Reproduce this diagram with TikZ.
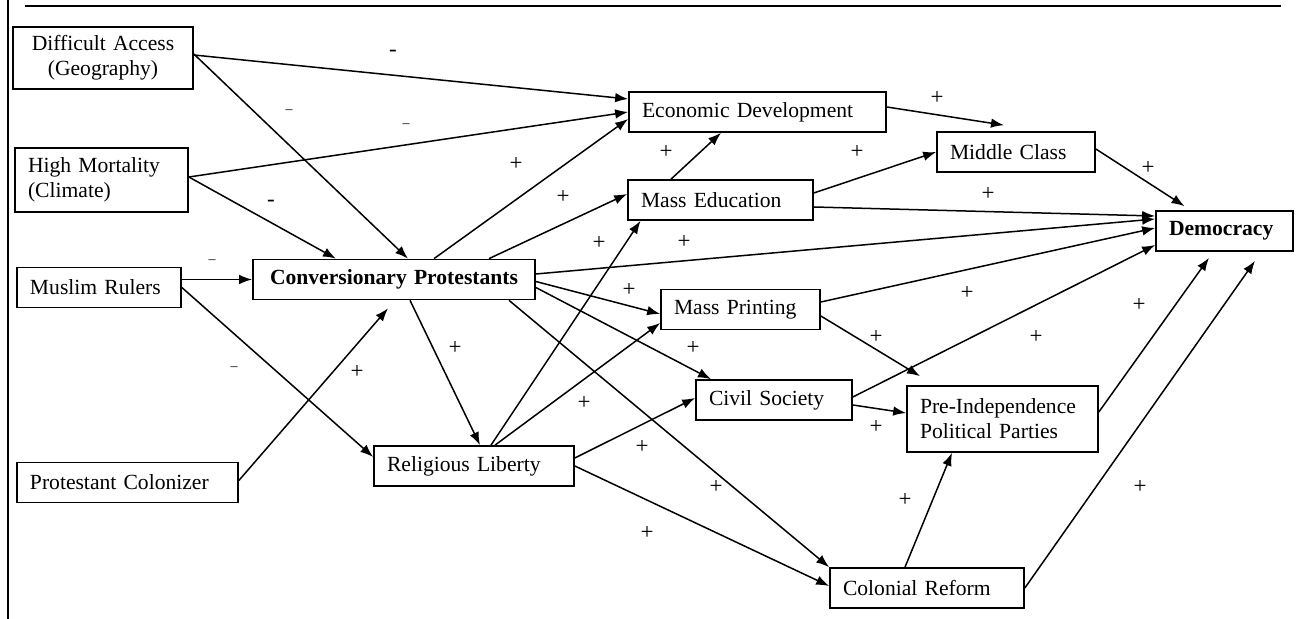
\documentclass[tikz,border=0pt]{standalone}
\usepackage{fontspec}
\setmainfont{Liberation Serif}
\usetikzlibrary{arrows.meta}
\begin{document}
\begin{tikzpicture}[x=0.5pt, y=-0.5pt, >={Latex[length=6.5pt,width=4.8pt]},
  box/.style = {draw, line width=0.85pt, align=left, inner xsep=6.5pt, inner ysep=0pt, minimum height=20pt, font=\fontsize{10.8}{12.5}\selectfont},
  sign/.style = {inner sep=0pt, font=\fontsize{11.5}{12.5}\selectfont},
  minussign/.style = {inner sep=0pt, font=\fontsize{7}{8}\selectfont},
  link/.style = {->, line width=0.75pt}]
  \useasboundingbox (0,0) rectangle (1298,619);
  \draw[line width=1pt] (25,6) -- (1281,6);
  \draw[line width=0.6pt] (8,0) -- (8,619);
  \node[box, text width=77pt, align=center, minimum height=31pt] (access) at (103,58) {Difficult Access\\(Geography)};
  \node[box, text width=73.5pt, minimum height=32pt] (mort) at (101.5,180) {High Mortality\\(Climate)};
  \node[box, text width=69pt] (muslim) at (99,287.5) {Muslim Rulers};
  \node[box, text width=97.5pt] (colon) at (127.5,482.5) {Protestant Colonizer};
  \node[box, text width=128pt, align=center] (conv) at (394,279.5) {\textbf{Conversionary Protestants}};
  \node[box, text width=87pt] (relig) at (474,466) {Religious Liberty};
  \node[box, text width=115.5pt] (econ) at (757.5,112) {Economic Development};
  \node[box, text width=79.5pt] (educ) at (720.5,200) {Mass Education};
  \node[box, text width=66pt] (middle) at (1016,152) {Middle Class};
  \node[box, text width=55.5pt] (demo) at (1224.5,231) {\textbf{Democracy}};
  \node[box, text width=66.5pt] (print) at (740.5,309.5) {Mass Printing};
  \node[box, text width=65pt] (civil) at (774,400) {Civil Society};
  \node[box, text width=82.5pt, minimum height=33pt] (parties) at (1002.5,419) {Pre-Independence\\Political Parties};
  \node[box, text width=84pt] (reform) at (927,588) {Colonial Reform};
  % arrows
  \draw[link] ([yshift=1.5pt]access.east) -- ([yshift=6.5pt]econ.west);
  \draw[link] ([yshift=2pt]access.east) -- ([xshift=7pt]conv.north);
  \draw[link] ([yshift=1.5pt]mort.east) -- (econ.west);
  \draw[link] ([yshift=1.5pt]mort.east) -- ([xshift=-29pt]conv.north);
  \draw[link] (conv.west -| muslim.east) -- (conv.west);
  \draw[link] (muslim.east) -- ([yshift=4.5pt]relig.west);
  \draw[link] ([yshift=1pt]colon.east) -- ([xshift=-3pt,yshift=-4pt]conv.south);
  \draw[link] ([xshift=8pt]conv.south) -- ([xshift=3pt]relig.north);
  \draw[link] ([xshift=20pt]conv.north) -- ([yshift=-3.5pt]econ.west);
  \draw[link] ([xshift=47.5pt]conv.north) -- ([yshift=3pt]educ.west);
  \draw[link] ([yshift=2.75pt]conv.east) -- ([yshift=6pt]demo.west);
  \draw[link] ([yshift=-1pt]conv.east) -- ([yshift=-2.25pt]print.west);
  \draw[link] ([yshift=-4pt]conv.east) -- ([xshift=-31.5pt]civil.north);
  \draw[link] ([xshift=57.5pt]conv.south) -- (reform.north west);
  \draw[link] ([xshift=8.5pt]relig.north) -- ([xshift=-40pt]educ.south);
  \draw[link] ([xshift=10.5pt]relig.north) -- ([yshift=-6.75pt]print.west);
  \draw[link] ([yshift=4pt]relig.east) -- ([yshift=1pt]civil.west);
  \draw[link] (relig.east) -- ([yshift=1pt]reform.west);
  \draw[link] ([xshift=-24.75pt]educ.north) -- ([xshift=-18.25pt]econ.south);
  \draw[link] ([yshift=3.5pt]educ.east) -- (middle.west);
  \draw[link] ([yshift=-3.5pt]educ.east) -- ([yshift=7.5pt]demo.west);
  \draw[link] ([yshift=2.5pt]econ.east) -- ([xshift=-6pt,yshift=3pt]middle.north);
  \draw[link] ([yshift=1.5pt]middle.east) -- ([xshift=-20pt,yshift=2pt]demo.north);
  \draw[link] ([yshift=3.75pt]print.east) -- ([yshift=1.5pt]demo.west);
  \draw[link] ([yshift=-3.25pt]print.east) -- ([xshift=-41.25pt,yshift=4.5pt]parties.north);
  \draw[link] ([yshift=1.5pt]civil.east) -- ([yshift=-7pt]demo.west);
  \draw[link] ([yshift=-2.5pt]civil.east) -- ([yshift=3pt]parties.west);
  \draw[link] ([yshift=3.5pt]parties.east) -- ([xshift=-7.75pt,yshift=-3pt]demo.south);
  \draw[link] ([xshift=-11pt]reform.north) -- ([xshift=-25.25pt]parties.south);
  \draw[link] (reform.east) -- ([xshift=15.25pt,yshift=-4.5pt]demo.south);
  % signs
  \node[sign] (minus1) at (393,53) {-};
  \node[minussign] (minus2) at (289,112) {\textendash};
  \node[minussign] (minus3) at (406,126) {\textendash};
  \node[sign] (minus4) at (271,203) {-};
  \node[minussign] (minus5) at (212,262) {\textendash};
  \node[minussign] (minus6) at (234,369) {\textendash};
  \foreach \n/\px/\py in {1/516/164, 2/563/197, 3/599/243, 4/629/290, 5/684/242, 6/666/152,
    7/857/152, 8/937/98, 9/1148/168, 10/988/194, 11/967/293, 12/1139/305, 13/876/337,
    14/1036/337, 15/693/348, 16/876/427, 17/584/403, 18/642/447, 19/716/487, 20/647/533,
    21/905/500, 22/1140/487, 23/357/372, 24/455/348}
    \node[sign] (plus\n) at (\px,\py) {+};
\end{tikzpicture}
\end{document}
